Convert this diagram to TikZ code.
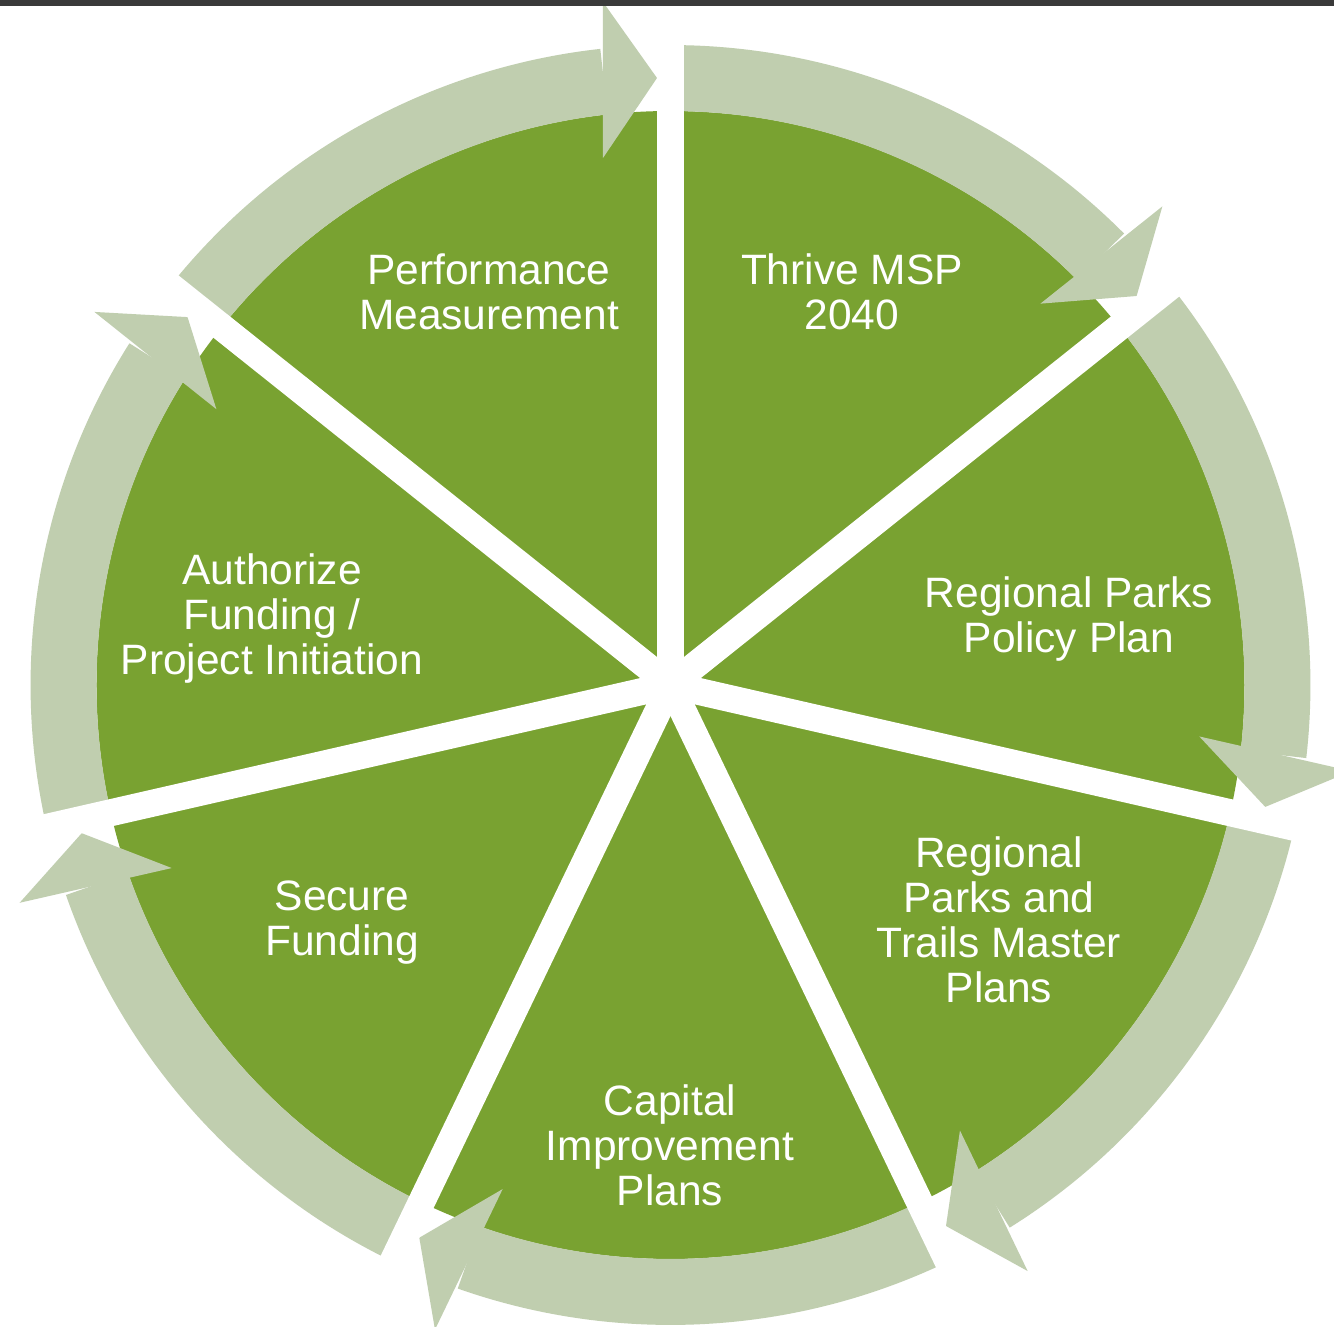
\documentclass[tikz,border=0pt]{standalone}
\usepackage{fontspec}
\setmainfont{Liberation Sans}
\definecolor{leaf}{RGB}{121,162,49}
\definecolor{sage}{RGB}{192,206,175}
\definecolor{topbar}{RGB}{58,58,58}
\begin{document}
\begin{tikzpicture}[x=1pt,y=1pt,
  lbl/.style={text=white, align=center, inner sep=0pt,
    font=\fontsize{42.5}{45}\selectfont,
    execute at begin node=\strut, execute at end node=\strut},
  band/.style={fill=sage},
  gapline/.style={fill=white}]
\useasboundingbox (-670.5,-642) rectangle (663.5,685);
\clip (-670.5,-642) rectangle (663.5,685);
\fill[white] (-670.5,-642) rectangle (663.5,685);
% green disc
\fill[leaf] (0,0) circle[radius=574pt];
% circular arrows (one per segment, head at the segment's end gap)
\foreach \e in {38.5714,-12.8571,-64.2857,-115.7143,-167.1429,-218.5714,-270} {
  \begin{scope}[rotate=\e]
    \fill[band] (6.3:574pt) arc[start angle=6.3, end angle=51.4286, radius=574pt]
      -- (51.4286:640pt) arc[start angle=51.4286, end angle=6.3, radius=640pt] -- cycle;
    \fill[band] (527,67.5) -- (607,13.5) -- (683,67.5) -- cycle;
  \end{scope}
}
% white gaps
\foreach \g in {38.5714,-12.8571,-64.2857,-115.7143,-167.1429,-218.5714,-270} {
  \begin{scope}[rotate=\g]
    \fill[gapline] (0,-13.5) rectangle (720,13.5);
  \end{scope}
}
\fill[white] (0,0) circle[radius=14pt];
% top bar
\fill[topbar] (-670.5,679) rectangle (663.5,685);
% labels
\node[lbl] (perf) at (-181.5,387) {Performance\\Measurement};
\node[lbl] (thrive) at (181.5,387) {Thrive MSP\\2040};
\node[lbl] (rppp) at (398.5,64) {Regional Parks\\Policy Plan};
\node[lbl] (master) at (328.5,-241) {Regional\\Parks and\\Trails Master\\Plans};
\node[lbl] (cip) at (-0.5,-467) {Capital\\Improvement\\Plans};
\node[lbl] (secure) at (-328.5,-240) {Secure\\Funding};
\node[lbl] (auth) at (-398.5,64) {Authorize\\Funding /\\Project Initiation};
\end{tikzpicture}
\end{document}
